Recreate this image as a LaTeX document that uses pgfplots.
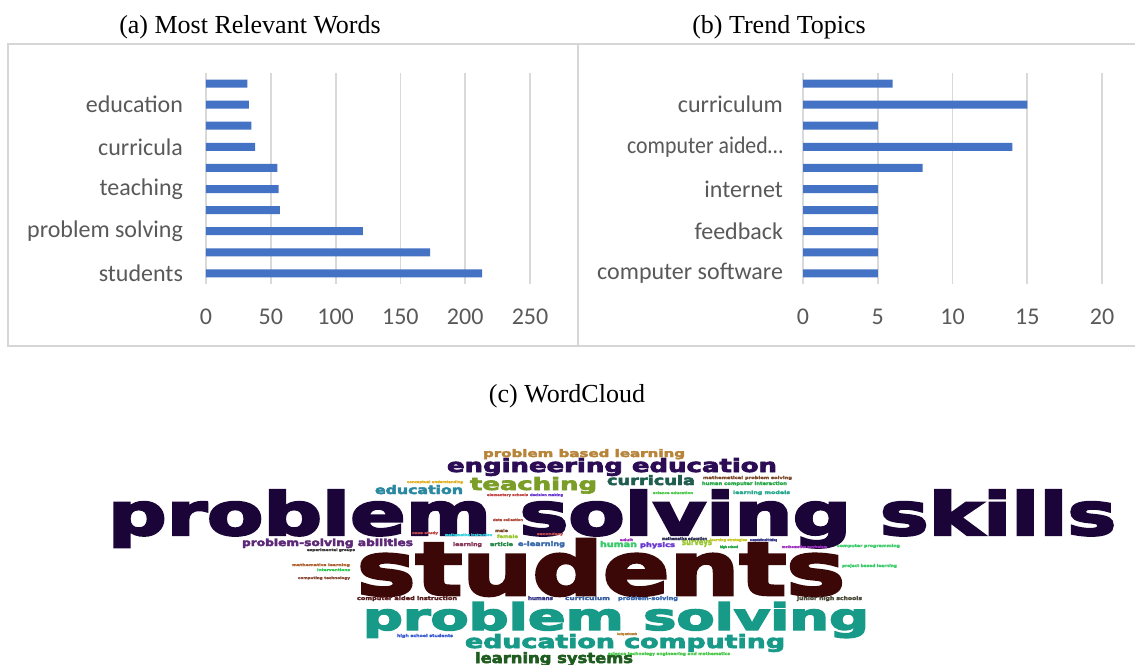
\documentclass[border=0pt]{standalone}
\usepackage{pgfplots}
\pgfplotsset{compat=1.18}
\usepackage{graphicx}
\usepackage{fontspec}
\setmainfont{Liberation Serif}
\newfontfamily\calfont{Carlito}
\newfontfamily\wc{DejaVu Sans}[BoldFeatures={FakeBold=3.5}]
\definecolor{barblue}{HTML}{4472C4}
\definecolor{gridgray}{HTML}{D9D9D9}
\definecolor{framegray}{HTML}{D6D6D6}
\definecolor{ticktext}{HTML}{595959}
% word cloud colours
\definecolor{cA}{HTML}{1A0438}
\definecolor{cB}{HTML}{3C0707}
\definecolor{cC}{HTML}{189A88}
\definecolor{cD}{HTML}{1F5C1F}
\definecolor{cE}{HTML}{2C0C55}
\definecolor{cF}{HTML}{B8843A}
\definecolor{cG}{HTML}{7A9E28}
\definecolor{cH}{HTML}{1F5E4F}
\definecolor{cI}{HTML}{2A88A0}
\definecolor{cJ}{HTML}{5E2A78}
\definecolor{cK}{HTML}{5A2020}
\definecolor{cL}{HTML}{3A5FA0}
\definecolor{cM}{HTML}{3A3A8A}
\definecolor{cN}{HTML}{3A6AB0}
\definecolor{cO}{HTML}{4A4A3A}
\definecolor{cP}{HTML}{3ACB6A}
\definecolor{cQ}{HTML}{6A3AD0}
\definecolor{cR}{HTML}{9AC830}
\definecolor{cS}{HTML}{2A2A50}
\definecolor{cT}{HTML}{3A6AAA}
\definecolor{cU}{HTML}{8A3A5A}
\definecolor{cV}{HTML}{2A8A4A}
\definecolor{cW}{HTML}{3A5AD0}
\definecolor{cX}{HTML}{7A4A2A}
\definecolor{cY}{HTML}{2AA84A}
\definecolor{cZ}{HTML}{2AA890}
\definecolor{ca}{HTML}{E0B020}
\definecolor{cb}{HTML}{3A3A3A}
\definecolor{cc}{HTML}{B06030}
\definecolor{cd}{HTML}{2AC84A}
\definecolor{ce}{HTML}{8A4A3A}
\definecolor{cf}{HTML}{B04A3A}
\definecolor{cg}{HTML}{C04A4A}
\definecolor{ch}{HTML}{30D0E0}
\definecolor{ci}{HTML}{C8C820}
\definecolor{cj}{HTML}{A030C0}
\definecolor{ck}{HTML}{4AC84A}
\newdimen\pxu \pxu=0.5pt
\newcommand\w[6]{\node[anchor=base west,inner sep=0pt,outer sep=0pt,text=#5] at (axis cs:#1,#2) {\resizebox{#3\pxu}{#4\pxu}{\wc\bfseries #6}};}
\pgfplotsset{
  barpanel/.style={
    scale only axis, height=105.5pt,
    xbar, bar width=4pt,
    ymin=-0.5, ymax=9.5,
    ytick={0,2,4,6,8},
    axis line style={draw=none},
    major tick length=0pt,
    xmajorgrids, ymajorgrids=false,
    grid style={draw=gridgray, line width=0.9pt},
    tick label style={font=\calfont\fontsize{12}{14}\selectfont, text=ticktext},
    xticklabel style={yshift=-9pt},
    /pgf/number format/assume math mode=true,
    clip=false,
  }
}
\begin{document}
\begin{tikzpicture}
\fill[white] (0,0) rectangle (567.5pt,332pt);
% canvas axis in pixel units
\begin{axis}[at={(0pt,0pt)}, anchor=south west, scale only axis,
  width=567.5pt, height=332pt, xmin=0, xmax=1135, ymin=0, ymax=664,
  y dir=reverse, hide axis, clip=false]
\draw[framegray, line width=1pt] (axis cs:8,44) rectangle (axis cs:578,346);
\draw[framegray, line width=1pt] (axis cs:578,44) rectangle (axis cs:1150,346);
\node[anchor=base, font=\fontsize{13}{15}\selectfont] at (axis cs:250,33) {(a) Most Relevant Words};
\node[anchor=base, font=\fontsize{13}{15}\selectfont] at (axis cs:779,33) {(b) Trend Topics};
\node[anchor=base, font=\fontsize{13}{15}\selectfont] at (axis cs:567,402) {(c) WordCloud};
% word cloud: x-left, baseline, width, height (px), colour, word
\w{108}{535}{1008}{45}{cA}{problem solving skills}
\w{357}{595}{488}{56}{cB}{students}
\w{363}{630}{506}{28}{cC}{problem solving}
\w{465}{648}{320}{14}{cC}{education computing}
\w{475}{663}{158}{11}{cD}{learning systems}
\w{447}{472}{330}{14}{cE}{engineering education}
\w{483}{457}{202}{8}{cF}{problem based learning}
\w{470}{490}{127}{13}{cG}{teaching}
\w{607}{485}{88}{10}{cH}{curricula}
\w{375}{494}{88}{9}{cI}{education}
\w{242}{546}{171}{7.5}{cJ}{problem-solving abilities}
\w{357}{600}{100}{4}{cK}{computer aided instruction}
\w{565}{600}{45}{4}{cL}{curriculum}
\w{528}{600}{25}{4}{cM}{humans}
\w{618}{600}{60}{4}{cN}{problem-solving}
\w{797}{600}{65}{4}{cO}{junior high schools}
\w{600}{547}{37}{6}{cP}{human}
\w{640}{547}{35}{5}{cQ}{physics}
\w{682}{545}{30}{5}{cR}{surveys}
\w{662}{540}{45}{3}{cS}{mathematics education}
\w{518}{546}{47}{5}{cT}{e-learning}
\w{453}{546}{29}{4}{cU}{learning}
\w{490}{546}{23}{4}{cV}{article}
\w{497}{538}{21}{3.5}{cR}{female}
\w{837}{547}{63}{3}{cP}{computer programming}
\w{842}{567}{55}{3}{cP}{project based learning}
\w{397}{637}{56}{3}{cW}{high school students}
\w{703}{479}{89}{3}{cX}{mathematical problem solving}
\w{702}{485}{85}{3.5}{cY}{human computer interaction}
\w{733}{494}{57}{3.5}{cZ}{learning models}
\w{407}{483}{56}{2.5}{ca}{conceptual understanding}
\w{307}{551}{48}{2.5}{cb}{experimental groups}
\w{292}{566}{58}{2.5}{cc}{mathematics learning}
\w{317}{571}{33}{2.5}{cd}{interventions}
\w{298}{579}{52}{2.5}{ce}{computing technology}
\w{493}{521}{30}{2.5}{cf}{data collection}
\w{495}{532}{13}{3}{cX}{male}
\w{487}{496}{41}{2.5}{cg}{elementary schools}
\w{530}{496}{33}{2.5}{cQ}{decision making}
\w{653}{494}{40}{2.5}{ck}{science education}
\w{445}{536}{47}{2.5}{ch}{mathematics instruction}
\w{412}{534}{26}{2.5}{cg}{case study}
\w{537}{535}{26}{2.5}{cg}{secondary}
\w{608}{655}{122}{3}{ck}{science technology engineering and mathematics}
\w{617}{635}{20}{2.5}{cF}{learning environments}
\w{620}{541}{13}{2.5}{cj}{adult}
\w{710}{541}{37}{2.5}{ci}{learning strategies}
\w{750}{541}{27}{2.5}{cM}{computational thinking}
\w{720}{548}{18}{2.5}{cY}{high school}
\w{782}{548}{45}{2.5}{cj}{mathematics curriculum}
\end{axis}
% (a) Most Relevant Words
\begin{axis}[barpanel, at={(103pt,190pt)}, anchor=south west,
  width=162pt, xmin=0, xmax=250, xtick={0,50,100,150,200,250},
  yticklabels={students,problem solving,teaching,curricula,education},
  yticklabel style={xshift=-8pt}]
\addplot[fill=barblue, draw=none] coordinates {
(213,0) (173,1) (121,2) (57,3) (56,4) (55,5) (38,6) (35,7) (33,8) (32,9)};
\end{axis}
% (b) Trend Topics
\begin{axis}[barpanel, at={(401.5pt,190pt)}, anchor=south west,
  width=149.5pt, xmin=0, xmax=20, xtick={0,5,10,15,20},
  yticklabels={computer software,feedback,internet,{\scalebox{0.91}[1]{computer aided…}},curriculum},
  yticklabel style={xshift=-6.5pt}]
\addplot[fill=barblue, draw=none] coordinates {
(5,0) (5,1) (5,2) (5,3) (5,4) (8,5) (14,6) (5,7) (15,8) (6,9)};
\end{axis}
\pgfresetboundingbox
\useasboundingbox (0,0) rectangle (567.5pt,332pt);
\end{tikzpicture}
\end{document}
